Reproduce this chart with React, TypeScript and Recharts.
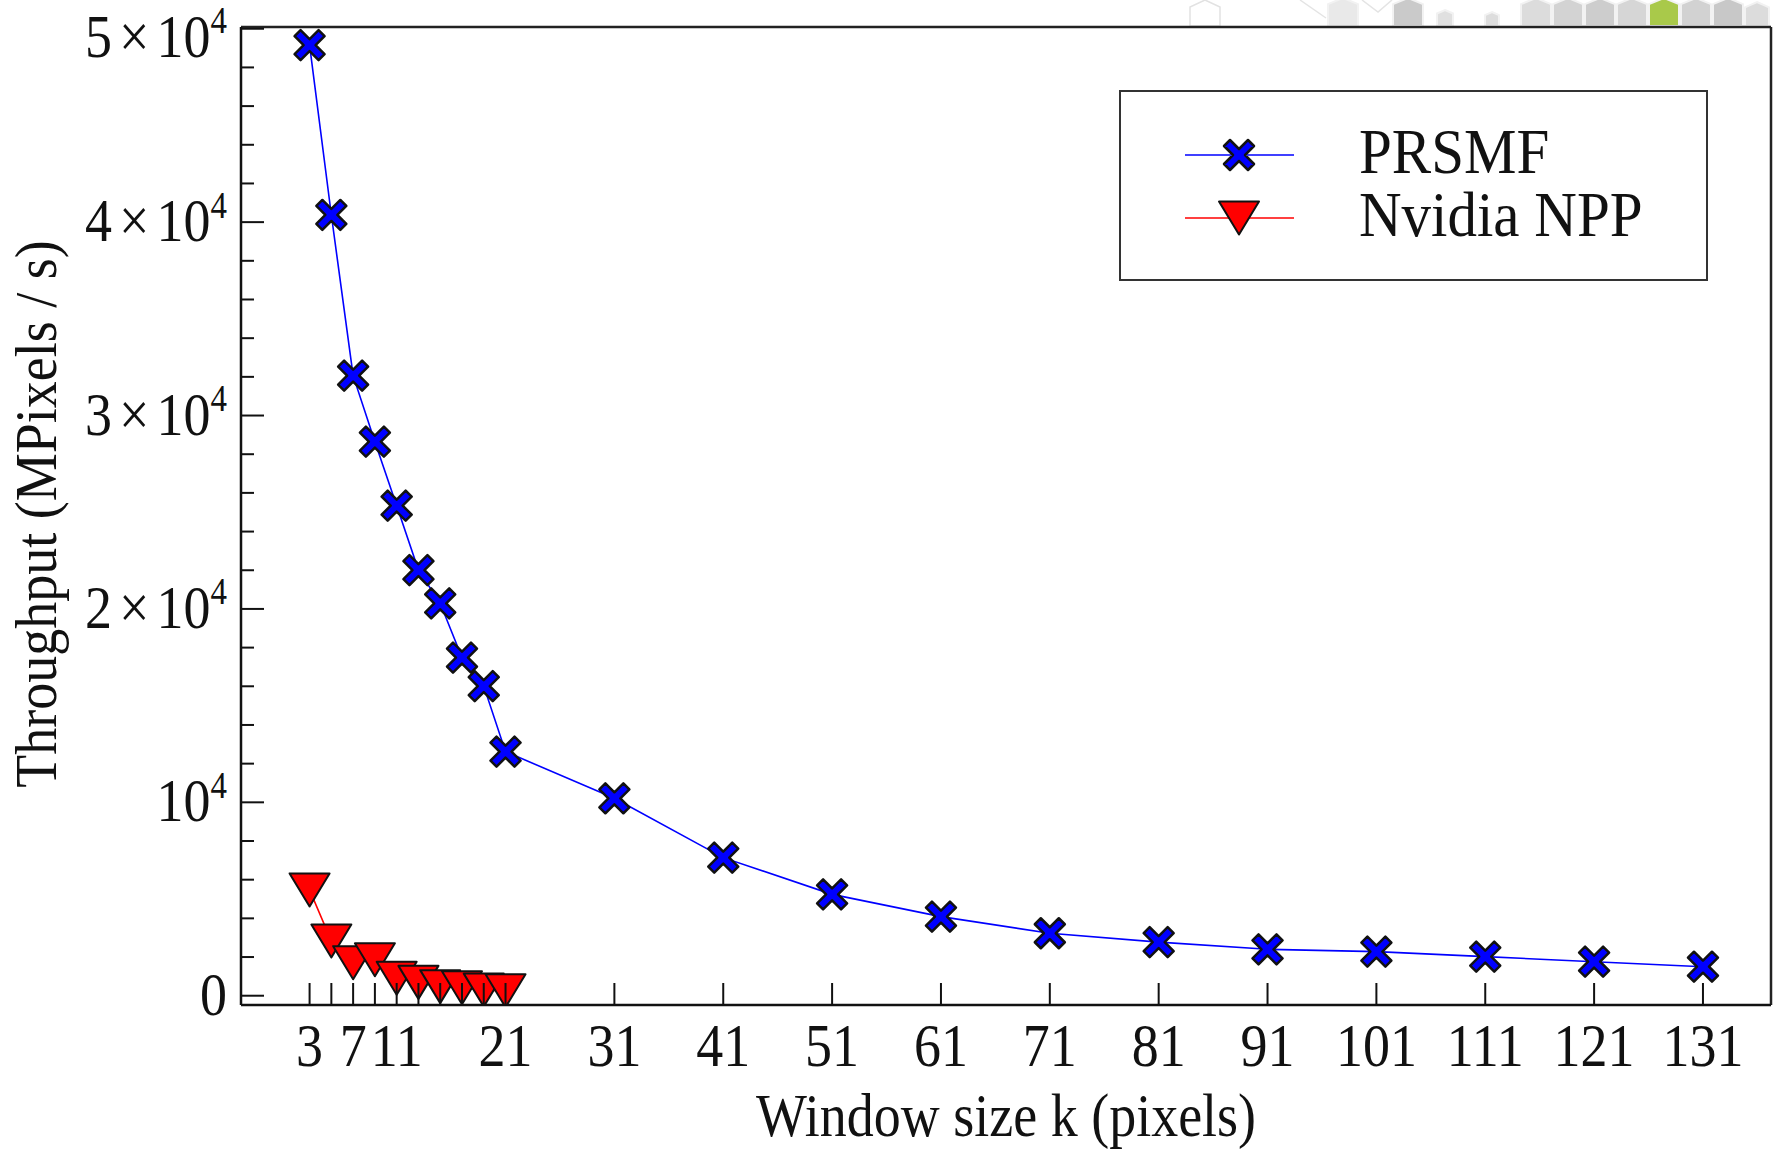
import { LineChart, Line, XAxis, YAxis, Legend, ReferenceLine } from 'recharts';

// window sizes k (pixels)
const windowSizes = [3, 5, 7, 9, 11, 13, 15, 17, 19, 21, 31, 41, 51, 61, 71, 81, 91, 101, 111, 121, 131];
// throughput, MPixels / s
const prsmf = [49150, 40370, 32060, 28650, 25340, 22010, 20290, 17480, 16010, 12620, 10210, 7140, 5240, 4090, 3230, 2770, 2400, 2280, 2020, 1760, 1500];
const nvidiaNpp = [5470, 2830, 1710, 1860, 900, 690, 470, 410, 290, 260];

const xTicks = [3, 5, 7, 9, 11, 13, 15, 17, 19, 21, 31, 41, 51, 61, 71, 81, 91, 101, 111, 121, 131];
const xTickLabels = [3, 7, 11, 21, 31, 41, 51, 61, 71, 81, 91, 101, 111, 121, 131];
const yTicks = [0, 2000, 4000, 6000, 8000, 10000, 12000, 14000, 16000, 18000, 20000, 22000, 24000, 26000, 28000, 30000, 32000, 34000, 36000, 38000, 40000, 42000, 44000, 46000, 48000, 50000];

const X_DOMAIN = [-3.3, 137.25];
const Y_DOMAIN = [-480, 50090];

const FONT = '"Liberation Serif", "DejaVu Serif", serif';
const BLUE = '#0000ff';
const RED = '#ff0000';
const INK = '#111';
// the source figure is a bit taller than wide, so its letters are too
const STRETCH = 1.12;

const data = windowSizes.map((k, i) => ({
  k,
  prsmf: prsmf[i],
  npp: i < nvidiaNpp.length ? nvidiaNpp[i] : null,
}));

function Cross({ cx, cy }: any) {
  if (cx == null || cy == null) return null;
  const a = 15;
  const d = 6;
  const pts = [
    [-a + d, -a], [0, -d], [a - d, -a], [a, -a + d], [d, 0], [a, a - d],
    [a - d, a], [0, d], [-a + d, a], [-a, a - d], [-d, 0], [-a, -a + d],
  ].map(([px, py]) => `${cx + px},${cy + py}`).join(' ');
  return <polygon points={pts} fill={BLUE} stroke={INK} strokeWidth={2.5} strokeLinejoin="round" />;
}

function Triangle({ cx, cy }: any) {
  if (cx == null || cy == null) return null;
  const w = 20;
  const h = 16.5;
  const pts = `${cx - w},${cy - h} ${cx + w},${cy - h} ${cx},${cy + h}`;
  return <polygon points={pts} fill={RED} stroke={INK} strokeWidth={2} strokeLinejoin="round" />;
}

function XTick({ x, y, payload }: any) {
  const v = payload.value;
  return (
    <g>
      <line x1={x} y1={y} x2={x} y2={y - 22} stroke={INK} strokeWidth={2} />
      {xTickLabels.includes(v) && (
        <text
          transform={`translate(${x},${y + 61}) scale(1,${STRETCH})`}
          textAnchor="middle"
          fontFamily={FONT}
          fontSize={54}
          fill={INK}
        >
          {v}
        </text>
      )}
    </g>
  );
}

function YTick({ x, y, payload }: any) {
  const v = payload.value;
  const major = v % 10000 === 0;
  const n = v / 10000;
  // top label sits a little lower in the original so it is not cut by the edge
  const base = y + (n === 5 ? 28 : 19);
  let body: any = '0';
  if (n === 1) body = '10';
  if (n > 1) {
    body = (
      <>
        {n}
        <tspan dx={7}>×</tspan>
        <tspan dx={7}>10</tspan>
      </>
    );
  }
  return (
    <g>
      <line x1={x} y1={y} x2={x + (major ? 23 : 13)} y2={y} stroke={INK} strokeWidth={2} />
      {major && (
        <text
          transform={`translate(${x - 14},${base}) scale(1,${STRETCH})`}
          textAnchor="end"
          fontFamily={FONT}
          fontSize={54}
          fill={INK}
        >
          {body}
          {n !== 0 && <tspan dy={-21} fontSize={33}>4</tspan>}
        </text>
      )}
    </g>
  );
}

function XTitle({ viewBox }: any) {
  const cx = viewBox.x + viewBox.width / 2;
  const by = viewBox.y + viewBox.height - 13;
  return (
    <text transform={`translate(${cx},${by}) scale(1,${STRETCH})`} textAnchor="middle" fontFamily={FONT} fontSize={54} fill={INK}>
      Window size k (pixels)
    </text>
  );
}

function YTitle({ viewBox }: any) {
  const bx = viewBox.x + 56;
  const cy = viewBox.y + viewBox.height / 2 - 2;
  return (
    <text transform={`translate(${bx},${cy}) rotate(-90) scale(1,1.08)`} textAnchor="middle" fontFamily={FONT} fontSize={54} fill={INK}>
      Throughput (MPixels / s)
    </text>
  );
}

function LegendBox() {
  const rows = [
    { name: 'PRSMF', color: BLUE, Marker: Cross, y: 65 },
    { name: 'Nvidia NPP', color: RED, Marker: Triangle, y: 128 },
  ];
  return (
    <svg width={589} height={191}>
      <rect x={1} y={1} width={587} height={189} fill="#fff" stroke="#333" strokeWidth={2} />
      {rows.map(({ name, color, Marker, y }) => (
        <g key={name}>
          <line x1={66} y1={y} x2={175} y2={y} stroke={color} strokeWidth={1.6} />
          <Marker cx={120} cy={y} />
          <text transform={`translate(240,${y + 18}) scale(1,1.08)`} fontFamily={FONT} fontSize={59} fill={INK}>
            {name}
          </text>
        </g>
      ))}
    </svg>
  );
}

// background strip of the slide the figure was cut from
const hexes = [
  { x: 1343, c: '#e9e9e9', r: 15 }, { x: 1408, c: '#cacaca', r: 15 }, { x: 1445, c: '#e0e0e0', r: 8 },
  { x: 1492, c: '#dddddd', r: 7 }, { x: 1536, c: '#dcdcdc', r: 15 }, { x: 1568, c: '#d3d3d3', r: 15 },
  { x: 1600, c: '#cdcdcd', r: 15 }, { x: 1632, c: '#d6d6d6', r: 15 }, { x: 1664, c: '#a9c94a', r: 15 },
  { x: 1696, c: '#d2d2d2', r: 15 }, { x: 1728, c: '#c8c8c8', r: 15 }, { x: 1757, c: '#dcdcdc', r: 12 },
];

function hexPoints(x: number, r: number) {
  const top = r === 15 ? -2 : 26 - 2 * r;
  const h = 26 - top;
  return `${x},${top} ${x + r},${top + h * 0.22} ${x + r},${top + h} ${x - r},${top + h} ${x - r},${top + h * 0.22}`;
}

export default function App() {
  return (
    <div style={{ position: 'absolute', left: 0, top: 0, width: 1779, height: 1149, background: '#fff' }}>
      <svg width={1779} height={27} style={{ position: 'absolute', left: 0, top: 0 }}>
        {hexes.map(({ x, c, r }) => (
          <polygon key={x} points={hexPoints(x, r)} fill={c} stroke="#f2f2f2" strokeWidth={2} />
        ))}
        <polygon points="1190,26 1190,7 1205,0 1220,7 1220,26" fill="none" stroke="#e2e2e2" strokeWidth={1.5} />
        <polyline points="1300,0 1326,18" fill="none" stroke="#e4e4e4" strokeWidth={1.5} />
        <polyline points="1362,0 1378,12 1392,0" fill="none" stroke="#e4e4e4" strokeWidth={1.5} />
      </svg>
      <LineChart
        width={1779}
        height={1149}
        data={data}
        margin={{ top: 27, right: 8, bottom: 0, left: 0 }}
        style={{ position: 'absolute', left: 0, top: 0 }}
      >
        <XAxis
          dataKey="k"
          type="number"
          domain={X_DOMAIN}
          allowDataOverflow
          ticks={xTicks}
          interval={0}
          height={144}
          tickSize={0}
          tickMargin={0}
          tickLine={false}
          tick={<XTick />}
          axisLine={{ stroke: INK, strokeWidth: 2.5 }}
          label={<XTitle />}
        />
        <YAxis
          type="number"
          domain={Y_DOMAIN}
          allowDataOverflow
          ticks={yTicks}
          interval={0}
          width={241}
          tickSize={0}
          tickMargin={0}
          tickLine={false}
          tick={<YTick />}
          axisLine={{ stroke: INK, strokeWidth: 2.5 }}
          label={<YTitle />}
        />
        <ReferenceLine y={Y_DOMAIN[1]} stroke="#222" strokeWidth={2.5} />
        <ReferenceLine x={X_DOMAIN[1]} stroke="#222" strokeWidth={2.5} />
        <Line
          dataKey="prsmf"
          stroke={BLUE}
          strokeWidth={1.6}
          dot={(p: any) => <Cross key={`c${p.index}`} cx={p.cx} cy={p.cy} />}
          activeDot={false}
          isAnimationActive={false}
        />
        <Line
          dataKey="npp"
          stroke={RED}
          strokeWidth={1.6}
          dot={(p: any) => <Triangle key={`t${p.index}`} cx={p.cx} cy={p.cy} />}
          activeDot={false}
          isAnimationActive={false}
        />
        <Legend
          layout="vertical"
          align="center"
          verticalAlign="middle"
          content={() => <LegendBox />}
          wrapperStyle={{ position: 'absolute', left: 1119, top: 90, width: 589, height: 191 }}
        />
      </LineChart>
    </div>
  );
}
